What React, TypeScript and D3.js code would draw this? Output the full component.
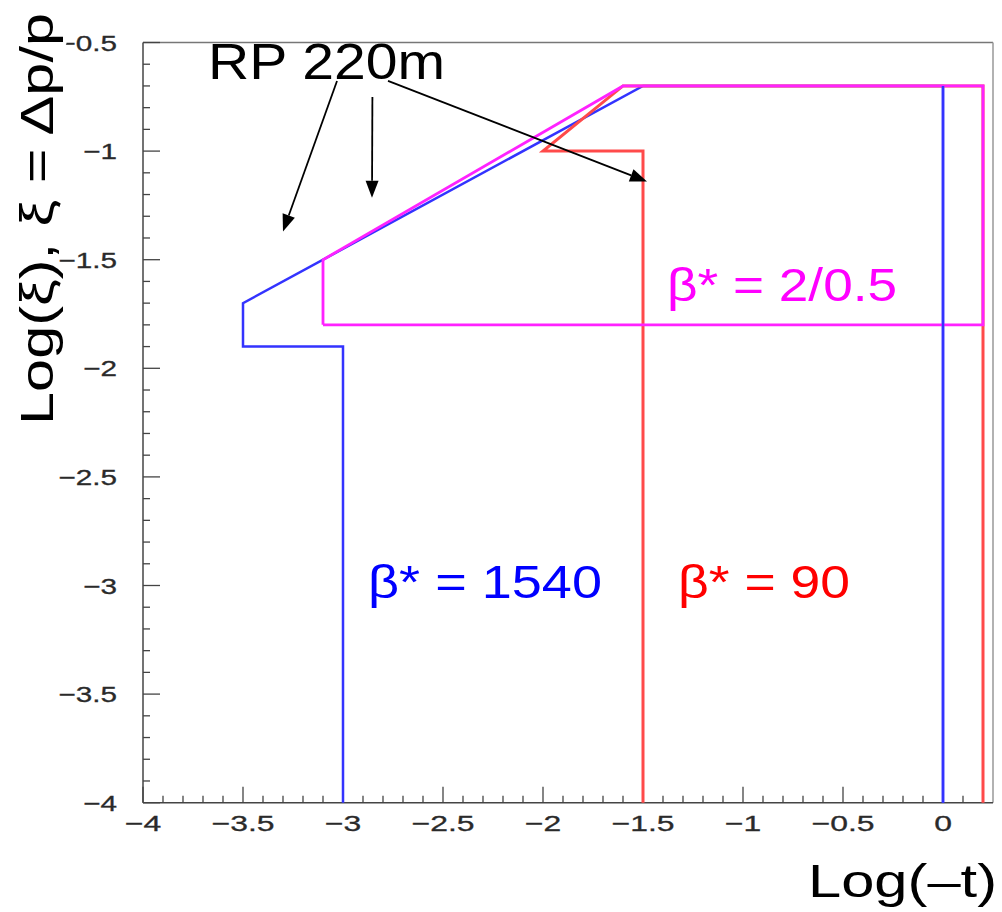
import React from "react";
import * as d3 from "d3";

// Acceptance regions in the (log(-t), log(xi)) plane for three optics settings
type Pt = [number, number];

const blueOutline: Pt[] = [
  [-3, -4], [-3, -1.9], [-3.5, -1.9], [-3.5, -1.7], [-1.5, -0.7], [0, -0.7], [0, -4],
];
const redOutline: Pt[] = [
  [-1.5, -4], [-1.5, -1], [-2, -1], [-1.6, -0.7], [0.2, -0.7], [0.2, -4],
];
const magentaOutline: Pt[] = [
  [-3.1, -1.8], [-3.1, -1.5], [-1.6, -0.7], [0.2, -0.7], [0.2, -1.8], [-3.1, -1.8],
];

const xTicksMajor = [-4, -3.5, -3, -2.5, -2, -1.5, -1, -0.5, 0];
const xTickLabels = ["\u22124", "\u22123.5", "\u22123", "\u22122.5", "\u22122", "\u22121.5", "\u22121", "\u22120.5", "0"];
const yTicksMajor = [-4, -3.5, -3, -2.5, -2, -1.5, -1, -0.5];
const yTickLabels = ["\u22124", "\u22123.5", "\u22123", "\u22122.5", "\u22122", "\u22121.5", "\u22121", "\u22120.5"];

// Arrows from the "RP 220m" label, [from, to] in data coordinates
const arrows: [Pt, Pt][] = [
  [[-3.03, -0.677], [-3.3, -1.37]],
  [[-2.853, -0.751], [-2.855, -1.215]],
  [[-2.775, -0.677], [-1.48, -1.14]],
];

const W = 1002;
const H = 912;

export default function App() {
  const x = d3.scaleLinear().domain([-4, 0.25]).range([143, 993]);
  const y = d3.scaleLinear().domain([-4, -0.5]).range([802.7, 42.5]);
  const line = d3.line<Pt>().x((d) => x(d[0])).y((d) => y(d[1]));

  const xMinor = d3.range(-4, 0.25 + 1e-9, 0.1).map((v) => Math.round(v * 10) / 10);
  const yMinor = d3.range(-4, -0.5 + 1e-9, 0.1).map((v) => Math.round(v * 10) / 10);

  const x0 = x(-4);
  const x1 = x(0.25);
  const yb = y(-4);
  const yt = y(-0.5);

  const tickFont = "'Liberation Sans', Arial, sans-serif";
  const bigFont = "'Liberation Sans', Arial, sans-serif";

  const arrowHead = (from: Pt, to: Pt) => {
    const fx = x(from[0]), fy = y(from[1]);
    const tx = x(to[0]), ty = y(to[1]);
    const ang = Math.atan2(ty - fy, tx - fx);
    const L = 17, Wd = 6.5;
    const bx = tx - L * Math.cos(ang), by = ty - L * Math.sin(ang);
    const px = -Math.sin(ang) * Wd, py = Math.cos(ang) * Wd;
    return {
      line: [fx, fy, bx, by],
      pts: `${tx},${ty} ${bx + px},${by + py} ${bx - px},${by - py}`,
    };
  };

  return (
    <svg
      width={W}
      height={H}
      style={{ position: "absolute", left: 0, top: 0, display: "block", background: "#fff" }}
    >
      {/* frame */}
      <line x1={x0} y1={yt} x2={x1} y2={yt} stroke="#777" strokeWidth={1.5} />
      <line x1={x1} y1={yt} x2={x1} y2={yb} stroke="#999" strokeWidth={1.5} />
      <line x1={x0} y1={yt} x2={x0} y2={yb} stroke="#444" strokeWidth={1.5} />
      <line x1={x0} y1={yb} x2={x1} y2={yb} stroke="#444" strokeWidth={1.5} />

      {/* ticks */}
      {xMinor.map((v) => {
        const major = Math.abs(v * 2 - Math.round(v * 2)) < 1e-6;
        return (
          <line key={"xm" + v} x1={x(v)} x2={x(v)} y1={yb} y2={yb - (major ? 16 : 7)} stroke="#444" strokeWidth={1.3} />
        );
      })}
      {yMinor.map((v) => {
        const major = Math.abs(v * 2 - Math.round(v * 2)) < 1e-6;
        return (
          <line key={"ym" + v} x1={x0} x2={x0 + (major ? 17 : 7)} y1={y(v)} y2={y(v)} stroke="#444" strokeWidth={1.3} />
        );
      })}

      {/* tick labels */}
      {xTicksMajor.map((v, i) => (
        <text
          key={"xl" + v}
          transform={`translate(${x(v)},${yb + 28.5}) scale(1.45,1)`}
          textAnchor="middle"
          fontFamily={tickFont}
          fontSize={22}
          fill="#2a2a2a"
          stroke="#2a2a2a"
          strokeWidth={0.3}
        >
          {xTickLabels[i]}
        </text>
      ))}
      {yTicksMajor.map((v, i) => (
        <text
          key={"yl" + v}
          transform={`translate(117,${y(v) + 8}) scale(1.35,1)`}
          textAnchor="end"
          fontFamily={tickFont}
          fontSize={22}
          fill="#2a2a2a"
          stroke="#2a2a2a"
          strokeWidth={0.3}
        >
          {yTickLabels[i]}
        </text>
      ))}

      {/* acceptance outlines */}
      <path d={line(blueOutline) ?? ""} fill="none" stroke="#3333ff" strokeWidth={2.5} />
      <path d={line(redOutline) ?? ""} fill="none" stroke="#ff4a4a" strokeWidth={3} />
      <path d={line(magentaOutline) ?? ""} fill="none" stroke="#ff22ff" strokeWidth={2.8} />
      <line x1={x(0)} x2={x(0)} y1={y(-0.7)} y2={y(-4)} stroke="#3333ff" strokeWidth={2.5} />

      {/* annotations */}
      {arrows.map(([from, to], i) => {
        const a = arrowHead(from, to);
        return (
          <g key={"ar" + i}>
            <line x1={a.line[0]} y1={a.line[1]} x2={a.line[2]} y2={a.line[3]} stroke="#000" strokeWidth={1.8} />
            <polygon points={a.pts} fill="#000" />
          </g>
        );
      })}

      <text x={x(-3.675)} y={y(-0.67)} fontFamily={bigFont} fontSize={50} fill="#000" textLength={237} lengthAdjust="spacingAndGlyphs">
        RP 220m
      </text>
      <text x={x(-2.875)} y={y(-3.057)} fontFamily={bigFont} fontSize={46} fill="#0000ff" textLength={234} lengthAdjust="spacingAndGlyphs">
        {"\u03b2* = 1540"}
      </text>
      <text x={x(-1.325)} y={y(-3.057)} fontFamily={bigFont} fontSize={46} fill="#ff0000" textLength={172} lengthAdjust="spacingAndGlyphs">
        {"\u03b2* = 90"}
      </text>
      <text x={x(-1.38)} y={y(-1.69)} fontFamily={bigFont} fontSize={46} fill="#ff00ff" textLength={230} lengthAdjust="spacingAndGlyphs">
        {"\u03b2* = 2/0.5"}
      </text>

      {/* axis titles */}
      <text x={808} y={897} fontFamily={bigFont} fontSize={47} fill="#000" textLength={189} lengthAdjust="spacingAndGlyphs">
        {"Log(\u2013t)"}
      </text>
      <text
        transform="translate(53,425) rotate(-90)"
        fontFamily={bigFont}
        fontSize={47}
        fill="#000"
        stroke="#fff"
        strokeWidth={7}
        paintOrder="stroke"
        strokeLinejoin="round"
        textLength={412}
        lengthAdjust="spacingAndGlyphs"
      >
        {"Log(\u03be), \u03be = \u0394p/p"}
      </text>
    </svg>
  );
}
